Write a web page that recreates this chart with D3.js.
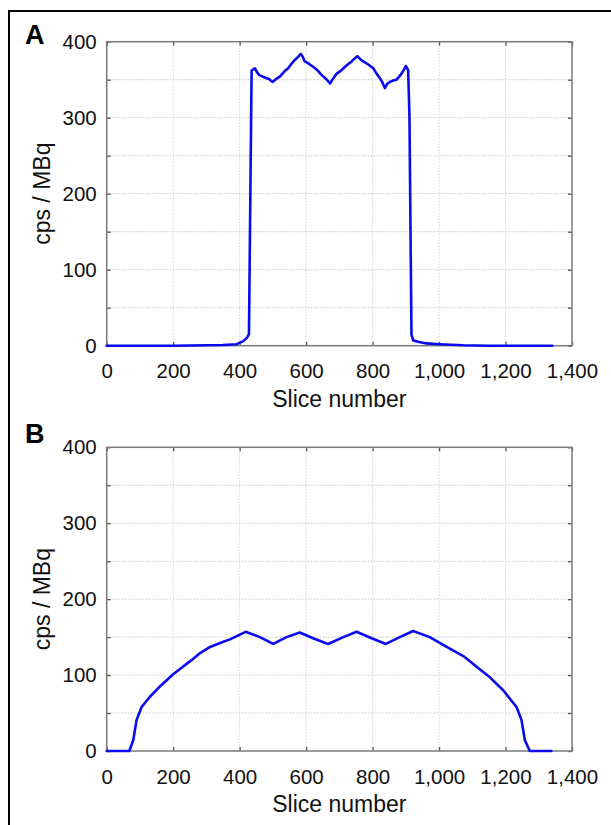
<!DOCTYPE html>
<html>
<head>
<meta charset="utf-8">
<script src="https://cdn.jsdelivr.net/npm/d3@7"></script>
<style>
html,body{margin:0;padding:0;background:#fff;}
svg{display:block;}
</style>
</head>
<body>
<svg id="chart" width="611" height="825"></svg>
<script>
// ---- data ----
const xTicks = [0, 200, 400, 600, 800, 1000, 1200, 1400];
const yTicks = [0, 100, 200, 300, 400];
const panelLabels = ["A", "B"];

const sliceA = [0, 100, 200, 300, 350, 391, 411, 421, 428, 436, 446, 452, 459, 476, 488, 499, 510, 521, 535, 546, 556, 566, 576, 584, 590, 596, 608, 621, 635, 647, 660, 672, 682, 692, 705, 717, 728, 737, 746, 754, 763, 772, 787, 802, 812, 822, 830, 837, 845, 852, 862, 872, 880, 887, 894, 900, 907, 911, 917, 922, 940, 962, 1000, 1073, 1150, 1250, 1341];
const cpsA   = [0, 0, 0, 0.5, 1, 2, 6, 10, 15, 362, 365, 360, 356, 353, 351, 347, 351, 354, 361, 365, 371, 376, 380, 384, 380, 374, 371, 367, 362, 356, 351, 345, 352, 358, 362, 367, 371, 374, 378, 381, 377, 374, 370, 365, 358, 352, 346, 339, 345, 347, 349, 350, 354, 358, 363, 368, 363, 300, 15, 7, 5, 3, 2, 0.5, 0, 0, 0];

const sliceB = [0, 68, 80, 90, 105, 130, 165, 200, 256, 281, 311, 351, 371, 418, 461, 501, 541, 581, 621, 666, 712, 752, 797, 840, 882, 922, 972, 1023, 1073, 1113, 1153, 1193, 1233, 1248, 1258, 1273, 1338];
const cpsB   = [0, 0, 14.5, 41, 58, 71.5, 87, 101, 120, 129, 137, 144, 147, 157, 150, 141, 150, 156, 148.5, 141, 150, 157, 148.5, 141, 150, 158, 150, 137, 125, 111, 97, 80, 58, 41, 14.5, 0, 0];

// ---- layout ----
const svg = d3.select("#chart");
const font = "'Liberation Sans', Arial, sans-serif";
const left = 106.7, right = 572;
const panels = [
  {label: panelLabels[0], top: 41.7, bottom: 345.7, xs: sliceA, ys: cpsA, labelY: 43.5},
  {label: panelLabels[1], top: 447.3, bottom: 751, xs: sliceB, ys: cpsB, labelY: 443}
];

// outer frame (left & top visible)
svg.append("rect").attr("x", 9).attr("y", 11).attr("width", 800).attr("height", 1000)
  .attr("fill", "none").attr("stroke", "#000").attr("stroke-width", 2);

panels.forEach(p => {
  const x = d3.scaleLinear().domain([0, 1400]).range([left, right]);
  const y = d3.scaleLinear().domain([0, 400]).range([p.bottom, p.top]);
  const g = svg.append("g");

  // grid
  const gridY = d3.range(50, 400, 50);
  g.selectAll(".gy").data(gridY).enter().append("line")
    .attr("x1", left).attr("x2", right).attr("y1", d => y(d)).attr("y2", d => y(d))
    .attr("stroke", "#c4c4c4").attr("stroke-width", 1).attr("stroke-dasharray", "1.5,1.5");
  g.selectAll(".gx").data(xTicks.slice(1, -1)).enter().append("line")
    .attr("y1", p.top).attr("y2", p.bottom).attr("x1", d => x(d)).attr("x2", d => x(d))
    .attr("stroke", "#d4d4d4").attr("stroke-width", 1).attr("stroke-dasharray", "1.5,1.5");

  // axes with inward ticks
  const tickLen = 4;
  const axB = d3.axisBottom(x).tickValues(xTicks).tickSize(-tickLen).tickPadding(tickLen + 14).tickFormat(d3.format(","));
  const axT = d3.axisTop(x).tickValues(xTicks).tickSize(-tickLen).tickFormat("");
  const axL = d3.axisLeft(y).tickValues(d3.range(0, 401, 50)).tickSize(-tickLen).tickPadding(tickLen + 6)
    .tickFormat(d => d % 100 === 0 ? d : "");
  const axR = d3.axisRight(y).tickValues(d3.range(0, 401, 50)).tickSize(-tickLen).tickFormat("");

  const style = sel => {
    sel.selectAll("path").attr("stroke", "#7a7a7a").attr("stroke-width", 1.5);
    sel.selectAll("line").attr("stroke", "#555").attr("stroke-width", 1.3);
    sel.selectAll("text").attr("fill", "#111").style("font-family", font).style("font-size", "20.5px");
  };
  g.append("g").attr("transform", `translate(0,${p.bottom})`).call(axB).call(style);
  g.append("g").attr("transform", `translate(0,${p.top})`).call(axT).call(style);
  g.append("g").attr("transform", `translate(${left},0)`).call(axL).call(style);
  g.append("g").attr("transform", `translate(${right},0)`).call(axR).call(style);
  g.selectAll(".domain").attr("d", null);
  g.append("rect").attr("x", left).attr("y", p.top).attr("width", right - left).attr("height", p.bottom - p.top)
    .attr("fill", "none").attr("stroke", "#7a7a7a").attr("stroke-width", 1.5);

  // data line
  const pts = p.xs.map((d, i) => [d, p.ys[i]]);
  g.append("path").datum(pts)
    .attr("d", d3.line().x(d => x(d[0])).y(d => y(d[1])))
    .attr("fill", "none").attr("stroke", "#0a0aee").attr("stroke-width", 2.6)
    .attr("stroke-linejoin", "round").attr("stroke-linecap", "round");

  // labels
  g.append("text").attr("x", (left + right) / 2).attr("y", p.bottom + 61)
    .attr("text-anchor", "middle").style("font-family", font).style("font-size", "23px").attr("fill", "#111")
    .text("Slice number");
  g.append("text").attr("transform", `translate(50,${(p.top + p.bottom) / 2}) rotate(-90)`)
    .attr("text-anchor", "middle").style("font-family", font).style("font-size", "23px").attr("fill", "#111")
    .text("cps / MBq");
  g.append("text").attr("x", 25).attr("y", p.labelY)
    .style("font-family", font).style("font-size", "27px").style("font-weight", "bold").attr("fill", "#000")
    .text(p.label);
});
</script>
</body>
</html>
